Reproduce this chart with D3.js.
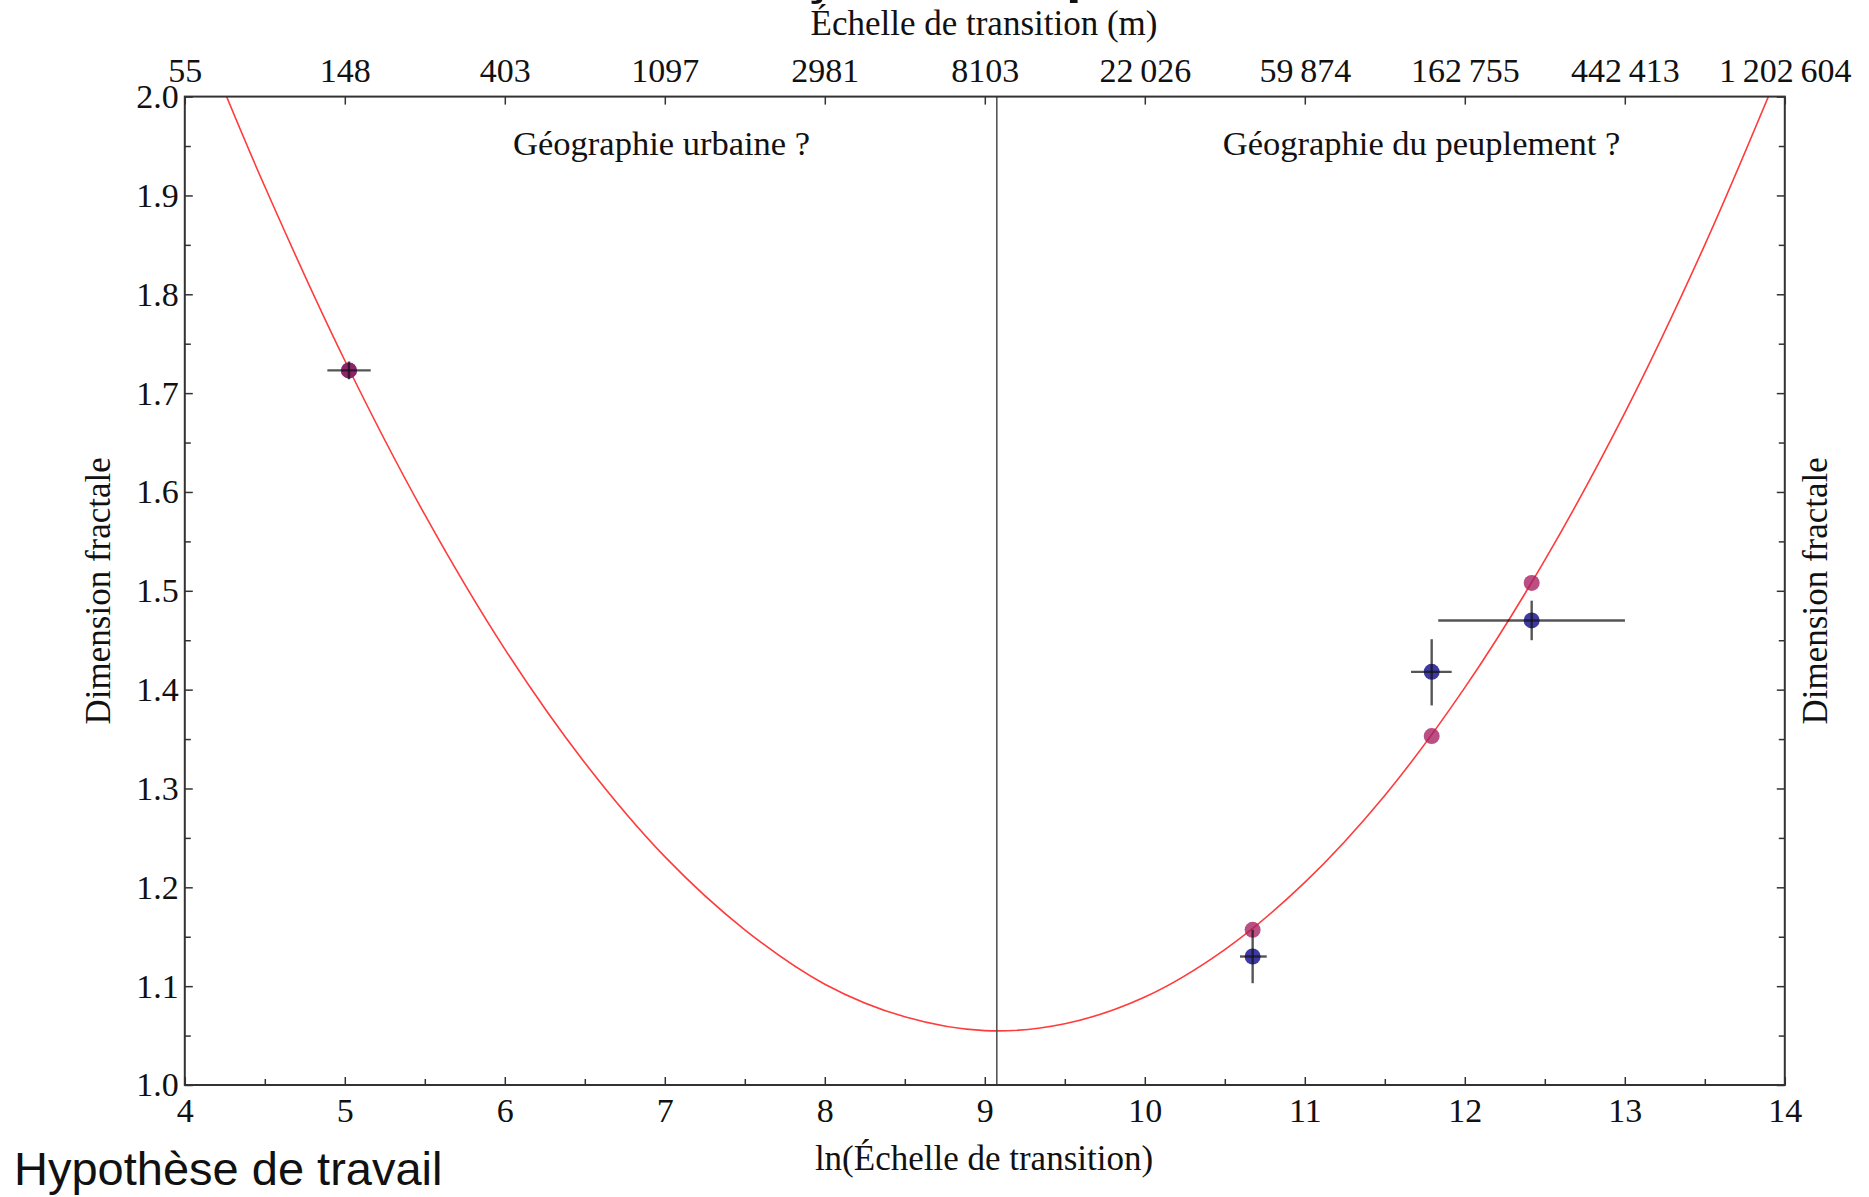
<!DOCTYPE html>
<html><head><meta charset="utf-8">
<script src="https://cdn.jsdelivr.net/npm/d3@7"></script>
<style>
body{margin:0;background:#fff;}
svg{display:block;}
text{font-family:"Liberation Serif","Times New Roman",serif;fill:#111;}
</style>
</head><body>
<svg id="c" width="1869" height="1197"></svg>
<script>
// ---- data ----
const xMajorTicks = [4,5,6,7,8,9,10,11,12,13,14];
const xMinorTicks = [4.5,5.5,6.5,7.5,8.5,9.5,10.5,11.5,12.5,13.5];
const topTickLabels = ["55","148","403","1097","2981","8103","22\u2009026","59\u2009874","162\u2009755","442\u2009413","1\u2009202\u2009604"];
const yMajorTicks = [1.0,1.1,1.2,1.3,1.4,1.5,1.6,1.7,1.8,1.9,2.0];
const yMinorTicks = [1.05,1.15,1.25,1.35,1.45,1.55,1.65,1.75,1.85,1.95];
const yTickLabels = ["1.0","1.1","1.2","1.3","1.4","1.5","1.6","1.7","1.8","1.9","2.0"];

const pointX    = [5.026, 10.674, 11.793, 12.418];
const fittedY   = [1.723, 1.157, 1.353, 1.508];
const observedY = [1.723, 1.130, 1.418, 1.470];
const errXLow   = [4.891, 10.595, 11.664, 11.834];
const errXHigh  = [5.162, 10.762, 11.918, 13.001];
const errYLow   = [1.714, 1.103, 1.384, 1.450];
const errYHigh  = [1.732, 1.157, 1.451, 1.490];

const curveX = [4.2,4.5,5,5.5,6,6.5,7,7.5,8,8.5,9,9.5,10,10.5,11,11.5,12,12.5,13,13.5,14];
const curveY = [2.024,1.909,1.733,1.577,1.441,1.326,1.231,1.157,1.102,1.069,1.055,1.062,1.089,1.137,1.205,1.293,1.402,1.531,1.680,1.850,2.040];

const minimumX = 9.075;
const regionLabels = ["Géographie urbaine ?", "Géographie du peuplement ?"];
const regionLabelX = [6.98, 11.73];

// ---- layout ----
const L = 184.8, R = 1784.8, T = 96.6, B = 1085;
const svg = d3.select("#c");
const x = d3.scaleLinear().domain([4,14]).range([L,R]);
const y = d3.scaleLinear().domain([1,2]).range([B,T]);

svg.append("defs").append("clipPath").attr("id","plotclip")
  .append("rect").attr("x",L).attr("y",T).attr("width",R-L).attr("height",B-T);

// cut-off title fragments at the very top (as in the reference)
svg.append("text").attr("x",801).attr("y",-8).style("font-family","Liberation Sans, Arial, sans-serif")
  .style("font-weight","bold").style("font-size","56px").text("ç");
svg.append("text").attr("x",1066).attr("y",-9).style("font-family","Liberation Sans, Arial, sans-serif")
  .style("font-weight","bold").style("font-size","56px").text("p");

// curve
const line = d3.line().x((d,i)=>x(curveX[i])).y((d,i)=>y(curveY[i])).curve(d3.curveCatmullRom);
svg.append("path").datum(curveX).attr("d",line).attr("clip-path","url(#plotclip)")
  .attr("fill","none").attr("stroke","#ff3b3b").attr("stroke-width",1.6);

// vertical line at minimum
svg.append("line").attr("x1",x(minimumX)).attr("x2",x(minimumX)).attr("y1",T).attr("y2",B)
  .attr("stroke","#555").attr("stroke-width",1.6);

// points
const idx = d3.range(pointX.length);
svg.append("g").selectAll("circle").data(idx).join("circle")
  .attr("cx",i=>x(pointX[i])).attr("cy",i=>y(observedY[i])).attr("r",8)
  .attr("fill","rgba(35,30,150,0.88)");
svg.append("g").selectAll("circle").data(idx).join("circle")
  .attr("cx",i=>x(pointX[i])).attr("cy",i=>y(fittedY[i])).attr("r",8)
  .attr("fill","rgba(165,30,95,0.78)");

// error bars
const eb = svg.append("g").attr("stroke","rgba(20,20,20,0.72)").attr("stroke-width",2.4);
eb.selectAll("line.h").data(idx).join("line").attr("class","h")
  .attr("x1",i=>x(errXLow[i])).attr("x2",i=>x(errXHigh[i]))
  .attr("y1",i=>y(observedY[i])).attr("y2",i=>y(observedY[i]));
eb.selectAll("line.v").data(idx).join("line").attr("class","v")
  .attr("x1",i=>x(pointX[i])).attr("x2",i=>x(pointX[i]))
  .attr("y1",i=>y(errYLow[i])).attr("y2",i=>y(errYHigh[i]));

// axes
function styleAxis(g){
  g.select(".domain").remove();
  g.selectAll(".tick line").attr("stroke","#333").attr("stroke-width",1.5);
  g.selectAll(".tick text").style("font-size","34px").attr("fill","#111")
   .style("font-family","Liberation Serif, Times New Roman, serif");
}
svg.append("g").attr("transform",`translate(0,${B})`)
  .call(d3.axisBottom(x).tickValues(xMajorTicks).tickSize(-8).tickPadding(13).tickFormat(d3.format("d")))
  .call(styleAxis);
svg.append("g").attr("transform",`translate(0,${B})`)
  .call(d3.axisBottom(x).tickValues(xMinorTicks).tickSize(-6).tickFormat(""))
  .call(styleAxis);
svg.append("g").attr("transform",`translate(0,${T})`)
  .call(d3.axisTop(x).tickValues(xMajorTicks).tickSize(-8).tickPadding(14.6).tickFormat((d,i)=>topTickLabels[i]))
  .call(styleAxis);
svg.append("g").attr("transform",`translate(${L},0)`)
  .call(d3.axisLeft(y).tickValues(yMajorTicks).tickSize(-8).tickPadding(6).tickFormat((d,i)=>yTickLabels[i]))
  .call(styleAxis);
svg.append("g").attr("transform",`translate(${L},0)`)
  .call(d3.axisLeft(y).tickValues(yMinorTicks).tickSize(-6).tickFormat(""))
  .call(styleAxis);
svg.append("g").attr("transform",`translate(${R},0)`)
  .call(d3.axisRight(y).tickValues(yMajorTicks).tickSize(-8).tickFormat(""))
  .call(styleAxis);
svg.append("g").attr("transform",`translate(${R},0)`)
  .call(d3.axisRight(y).tickValues(yMinorTicks).tickSize(-6).tickFormat(""))
  .call(styleAxis);

// frame
svg.append("rect").attr("x",L).attr("y",T).attr("width",R-L).attr("height",B-T)
  .attr("fill","none").attr("stroke","#333").attr("stroke-width",2);

// region labels
svg.append("g").selectAll("text").data(regionLabels).join("text")
  .attr("x",(d,i)=>x(regionLabelX[i])).attr("y",155).attr("text-anchor","middle")
  .style("font-size","34.5px").text(d=>d);

// axis titles
svg.append("text").attr("x",984).attr("y",35).attr("text-anchor","middle")
  .style("font-size","35px").text("Échelle de transition (m)");
svg.append("text").attr("x",984).attr("y",1170).attr("text-anchor","middle")
  .style("font-size","35px").text("ln(Échelle de transition)");
svg.append("text").attr("transform",`translate(110,${(T+B)/2}) rotate(-90)`).attr("text-anchor","middle")
  .style("font-size","35px").text("Dimension fractale");
svg.append("text").attr("transform",`translate(1827,${(T+B)/2}) rotate(-90)`).attr("text-anchor","middle")
  .style("font-size","35px").text("Dimension fractale");

// footer
svg.append("text").attr("x",14).attr("y",1185)
  .style("font-family","Liberation Sans, Arial, sans-serif").style("font-size","47px").attr("fill","#000")
  .text("Hypothèse de travail");
</script>
</body></html>
